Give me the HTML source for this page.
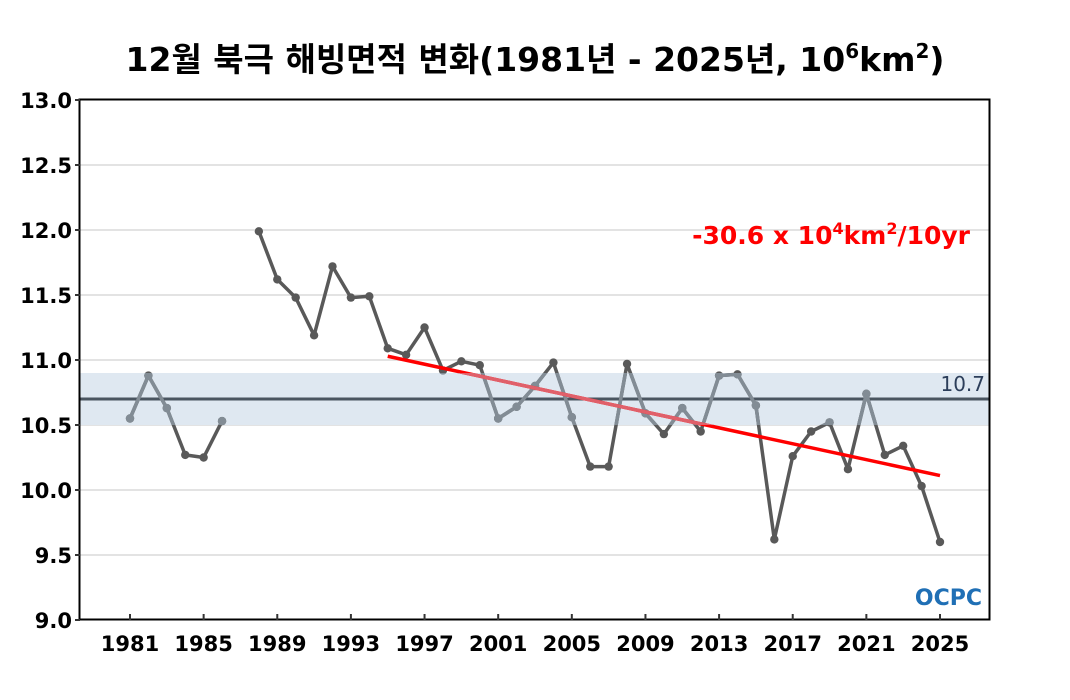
<!DOCTYPE html>
<html><head><meta charset="utf-8"><style>
body{margin:0;background:#fff;}
svg{display:block;font-family:"DejaVu Sans","Liberation Sans","Noto Sans CJK KR",sans-serif;}
</style></head><body>
<svg id="chart" width="1070" height="700">
<text x="535" y="71" text-anchor="middle" font-size="33" font-weight="bold" font-family="'DejaVu Sans','Noto Sans CJK KR',sans-serif">12월 북극 해빙면적 변화(1981년 - 2025년, 10<tspan font-size="20" dy="-13">6</tspan><tspan dy="13">km</tspan><tspan font-size="20" dy="-13">2</tspan><tspan dy="13">)</tspan></text>
<g id="grid"></g>
<g id="band"></g>
<g id="series"></g>
<rect x="79.5" y="99.5" width="910" height="520" fill="none" stroke="#000" stroke-width="2"/>
<g id="axes"></g>
<text x="970" y="244" text-anchor="end" font-size="25" font-weight="bold" fill="#f00">-30.6 x 10<tspan font-size="16" dy="-10">4</tspan><tspan dy="10">km</tspan><tspan font-size="16" dy="-10">2</tspan><tspan dy="10">/10yr</tspan></text>
<text x="985" y="391" text-anchor="end" font-size="20" fill="#2c3e5a">10.7</text>
<text x="982" y="605" text-anchor="end" font-size="22" font-weight="bold" fill="#1f6fb5">OCPC</text>
</svg>
<script>
const years=[];for(let y=1981;y<=2025;y++)years.push(y);
const values=[10.55,10.88,10.63,10.27,10.25,10.53,null,11.99,11.62,11.48,11.19,11.72,11.48,11.49,11.09,11.04,11.25,10.92,10.99,10.96,10.55,10.64,10.80,10.98,10.56,10.18,10.18,10.97,10.59,10.43,10.63,10.45,10.88,10.89,10.65,9.62,10.26,10.45,10.52,10.16,10.74,10.27,10.34,10.03,9.60];
const yTicks=[9.0,9.5,10.0,10.5,11.0,11.5,12.0,12.5,13.0];
const xTicks=[1981,1985,1989,1993,1997,2001,2005,2009,2013,2017,2021,2025];
const meanValue=[10.7];
const bandRange=[10.5,10.9];
const trendStartYear=[1995];
const trendSlope=[-0.0306];
const trendIntercept=[10.57];

const NS="http://www.w3.org/2000/svg";
const X=y=>130+(y-1981)*(810/44);
const Y=v=>620-(v-9)*130;
function mk(tag,attrs,parent){const e=document.createElementNS(NS,tag);for(const k in attrs)e.setAttribute(k,attrs[k]);parent.appendChild(e);return e;}
const grid=document.getElementById('grid'),axes=document.getElementById('axes'),band=document.getElementById('band'),series=document.getElementById('series');
yTicks.forEach(t=>{
 if(t>9&&t<13){const l=mk('line',{x1:80,x2:990,y1:Y(t),y2:Y(t),stroke:'#e3e3e3','stroke-width':2},grid);
 
 }
 const tk=mk('line',{x1:75,x2:80,y1:Y(t),y2:Y(t),stroke:'#333','stroke-width':2},axes);
 
 
 const tx=mk('text',{x:72,y:Y(t)+8,'text-anchor':'end','font-size':21,'font-weight':'bold'},axes);tx.textContent=t.toFixed(1);
 
 
});
xTicks.forEach(t=>{
 const tk=mk('line',{x1:X(t),x2:X(t),y1:614,y2:620,stroke:'#333','stroke-width':2},axes);
 
 
 const tx=mk('text',{x:X(t),y:651,'text-anchor':'middle','font-size':21,'font-weight':'bold'},axes);tx.textContent=t;
 
 
});
const br=mk('rect',{x:80,y:Y(bandRange[1]),width:910,height:Y(bandRange[0])-Y(bandRange[1]),fill:'#dfe8f1'},band);


const defs=mk('defs',{},series);
const cp=mk('clipPath',{id:'inband'},defs);
mk('rect',{x:80,y:Y(bandRange[1]),width:910,height:Y(bandRange[0])-Y(bandRange[1])},cp);
const ml=mk('line',{x1:80,x2:990,y1:Y(meanValue[0]),y2:Y(meanValue[0]),stroke:'#4a5560','stroke-width':3},band);


let d='';let pen=false;
years.forEach((y,i)=>{const v=values[i];if(v==null){pen=false;return;}d+=(pen?'L':'M')+X(y)+' '+Y(v)+' ';pen=true;});
function drawSeries(color,clip,name){
 const g=mk('g',clip?{'clip-path':'url(#inband)'}:{},series);
 
 
 mk('path',{d:d,fill:'none',stroke:color,'stroke-width':3.5,'stroke-linejoin':'round'},g);
 years.forEach((y,i)=>{const v=values[i];if(v==null)return;
  const c=mk('circle',{cx:X(y),cy:Y(v),r:4.2,fill:color},g);
  
  });
}
drawSeries('#595959',false,'ice-extent-line');
drawSeries('#828c95',true,'ice-extent-line-in-band');
const tv=y=>trendIntercept[0]+trendSlope[0]*(y-2010);
const t0=trendStartYear[0],t1=2025;
const tr=mk('line',{x1:X(t0),y1:Y(tv(t0)),x2:X(t1),y2:Y(tv(t1)),stroke:'#f00','stroke-width':3.5},series);


const tr2=mk('line',{x1:X(t0),y1:Y(tv(t0)),x2:X(t1),y2:Y(tv(t1)),stroke:'#e0606a','stroke-width':3.5,'clip-path':'url(#inband)'},series);


</script>
</body></html>
